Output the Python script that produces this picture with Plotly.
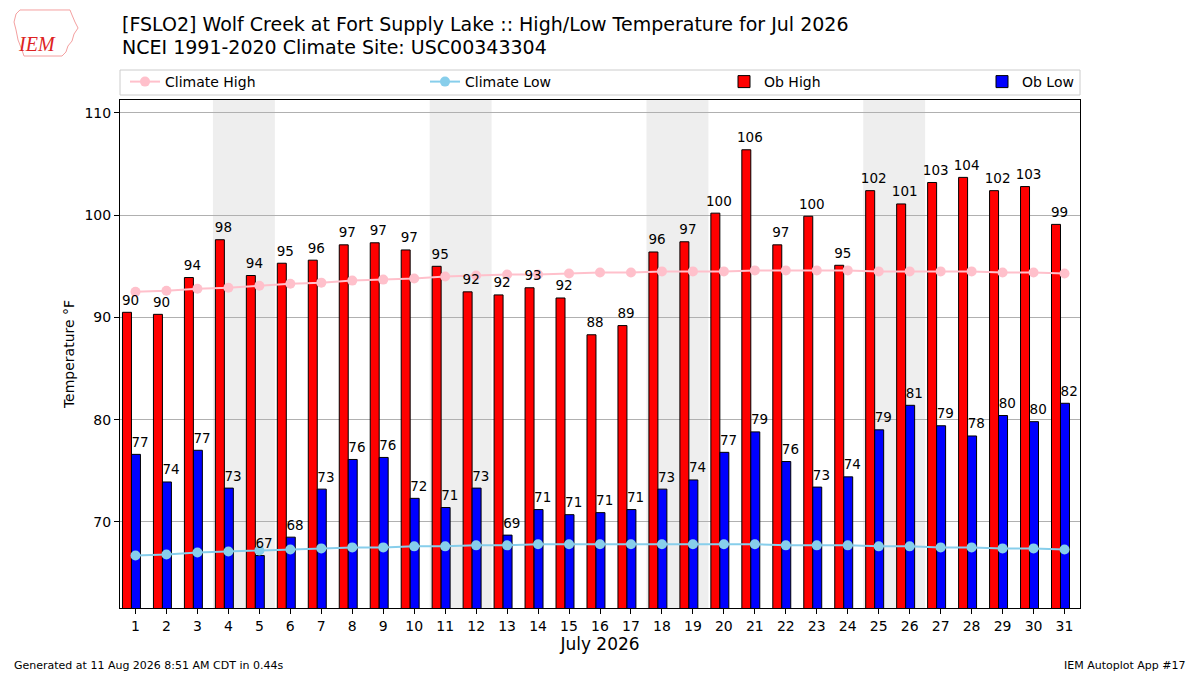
import datetime
import plotly.graph_objects as go

# Datos del mes
anio = 2026
mes = 7
dias = list(range(1, 32))

ob_high = [90.5, 90.3, 93.9, 97.6, 94.1, 95.3, 95.6, 97.1, 97.3, 96.6,
           95.0, 92.5, 92.2, 92.9, 91.9, 88.3, 89.2, 96.4, 97.4, 100.2,
           106.4, 97.1, 99.9, 95.1, 102.4, 101.1, 103.2, 103.7, 102.4, 102.8,
           99.1]
ob_low = [76.6, 73.9, 77.0, 73.3, 66.7, 68.5, 73.2, 76.1, 76.3, 72.3,
          71.4, 73.3, 68.7, 71.2, 70.7, 70.9, 71.2, 73.2, 74.1, 76.8,
          78.8, 75.9, 73.4, 74.4, 79.0, 81.4, 79.4, 78.4, 80.4, 79.8,
          81.6]
clima_high = [92.5, 92.6, 92.8, 92.9, 93.1, 93.3, 93.4, 93.6, 93.7, 93.8,
              94.0, 94.1, 94.2, 94.2, 94.3, 94.4, 94.4, 94.5, 94.5, 94.5,
              94.6, 94.6, 94.6, 94.6, 94.5, 94.5, 94.5, 94.5, 94.4, 94.4,
              94.3]
clima_low = [66.7, 66.8, 67.0, 67.1, 67.2, 67.3, 67.4, 67.5, 67.5, 67.6,
             67.6, 67.7, 67.7, 67.8, 67.8, 67.8, 67.8, 67.8, 67.8, 67.8,
             67.8, 67.7, 67.7, 67.7, 67.6, 67.6, 67.5, 67.5, 67.4, 67.4,
             67.3]
y_ticks = [70, 80, 90, 100, 110]

titulo1 = "[FSLO2] Wolf Creek at Fort Supply Lake :: High/Low Temperature for Jul 2026"
titulo2 = "NCEI 1991-2020 Climate Site: USC00343304"
pie_izq = "Generated at 11 Aug 2026 8:51 AM CDT in 0.44s"
pie_der = "IEM Autoplot App #17"

FUENTE = "DejaVu Sans"


# pixeles de la imagen -> coordenadas paper (area del grafico 960x508)
def px(x):
    return (x - 120) / 960


def py(y):
    return (608 - y) / 508


fig = go.Figure()

# 1. Barras observadas
fig.add_trace(go.Bar(
    x=dias, y=ob_high, width=0.29, offset=-0.42,
    marker=dict(color="#ff0000", line=dict(color="black", width=1)),
    name="Ob High", legend="legend3"
))
fig.add_trace(go.Bar(
    x=dias, y=ob_low, width=0.29, offset=-0.13,
    marker=dict(color="#0000ff", line=dict(color="black", width=1)),
    name="Ob Low", legend="legend4"
))

# 2. Climatologia
fig.add_trace(go.Scatter(
    x=dias, y=clima_high, mode="lines+markers",
    line=dict(color="pink", width=2), marker=dict(size=10, color="pink"),
    name="Climate High", legend="legend"
))
fig.add_trace(go.Scatter(
    x=dias, y=clima_low, mode="lines+markers",
    line=dict(color="skyblue", width=2), marker=dict(size=10, color="skyblue"),
    name="Climate Low", legend="legend2"
))

# 3. Etiquetas de valores (marcador invisible para separar el texto)
for xs, vals in [([d - 0.16 for d in dias], ob_high),
                 ([d + 0.15 for d in dias], ob_low)]:
    fig.add_trace(go.Scatter(
        x=xs, y=vals, mode="markers+text",
        marker=dict(size=5, opacity=0),
        text=[f"{v:.0f}" for v in vals], textposition="top center",
        textfont=dict(family=FUENTE, size=13.5, color="black"),
        showlegend=False, hoverinfo="skip"
    ))

# 4. Fines de semana sombreados
for d in dias:
    if datetime.date(anio, mes, d).weekday() == 5:
        fig.add_vrect(x0=d - 0.5, x1=d + 1.5, fillcolor="#eeeeee",
                      line_width=0, layer="below")

# Caja de la leyenda
fig.add_shape(type="rect", xref="paper", yref="paper",
              x0=0, x1=1, y0=py(95), y1=py(70),
              line=dict(color="#cccccc", width=1), fillcolor="white")

# Contorno del logo
contorno = [(20, 10), (70, 10), (72, 15), (75, 22), (78, 28), (74, 34), (72, 41),
            (68, 46), (66, 52), (62, 56), (24, 56), (22, 50), (18, 40),
            (16, 30), (14, 22), (16, 14)]
ruta = "M " + " L ".join(f"{px(a):.4f},{py(b):.4f}" for a, b in contorno) + " Z"
fig.add_shape(type="path", xref="paper", yref="paper", path=ruta,
              line=dict(color="#f4a0a0", width=1))

notas = [
    dict(text=titulo1, x=0, y=py(24), xanchor="left", font=dict(size=19)),
    dict(text=titulo2, x=0, y=py(47), xanchor="left", font=dict(size=19)),
    dict(text=pie_izq, x=px(12), y=py(665), xanchor="left", font=dict(size=11)),
    dict(text=pie_der, x=px(1188), y=py(665), xanchor="right", font=dict(size=11)),
    dict(text="<i>IEM</i>", x=px(37), y=py(44), xanchor="center",
         font=dict(size=20, color="#dd2222", family="Liberation Serif")),
]
for n in notas:
    fig.add_annotation(xref="paper", yref="paper", yanchor="middle",
                       showarrow=False, **n)

# una leyenda por entrada, repartidas como en la original
estilo_leyenda = dict(orientation="h", xanchor="left", y=py(66), yanchor="top",
                      bgcolor="rgba(0,0,0,0)", borderwidth=0, font=dict(size=14))
fig.update_layout(
    width=1200, height=675,
    margin=dict(l=120, r=120, t=100, b=67),
    plot_bgcolor="white", paper_bgcolor="white",
    font=dict(family=FUENTE, size=14, color="black"),
    barmode="overlay",
    showlegend=True,
    legend=dict(x=px(125), **estilo_leyenda),
    legend2=dict(x=px(425), **estilo_leyenda),
    legend3=dict(x=px(724), **estilo_leyenda),
    legend4=dict(x=px(982), **estilo_leyenda),
    xaxis=dict(
        range=[0.5, 31.5], tickmode="array", tickvals=dias,
        ticks="outside", ticklen=5, tickcolor="black",
        showgrid=False, showline=True, linecolor="black", linewidth=1, mirror=True,
        title=dict(text="July 2026", font=dict(size=17), standoff=5),
        zeroline=False
    ),
    yaxis=dict(
        range=[61.57, 111.27], tickmode="array", tickvals=y_ticks,
        ticks="outside", ticklen=5, tickcolor="black",
        showgrid=True, gridcolor="#b0b0b0", gridwidth=1,
        showline=True, linecolor="black", linewidth=1, mirror=True,
        title=dict(text="Temperature °F", font=dict(size=14), standoff=6),
        zeroline=False
    ),
)

# quitar el margen de 8px del body para que la figura ocupe la ventana
fig.write_html("out.html", config={"displayModeBar": False},
               post_script="document.body.style.margin='0';")
